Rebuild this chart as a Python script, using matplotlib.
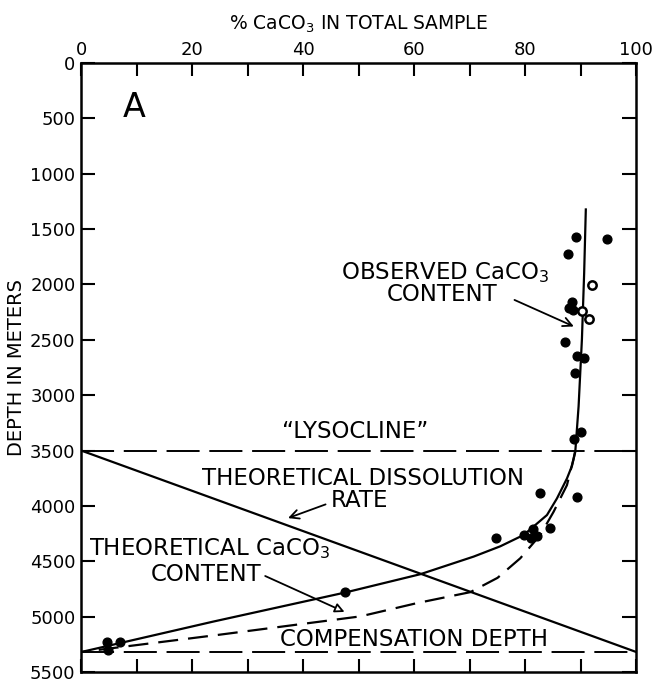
import numpy as np
import matplotlib
matplotlib.use("Agg")
import matplotlib.pyplot as plt

plt.rcParams['font.family'] = ['DejaVu Sans']
plt.rcParams['mathtext.fontset'] = 'dejavusans'

# observed CaCO3 samples (percent, depth in m)
obs_pct = [89.2, 94.8, 87.7, 88.4, 87.8, 88.6, 87.1, 89.3, 90.5, 89.0,
           90.0, 88.8, 82.7, 89.4, 74.8, 79.8, 81.4, 81.0, 82.1, 84.5,
           47.6, 4.6, 7.0, 4.9]
obs_depth = [1575, 1593, 1727, 2157, 2212, 2230, 2523, 2643, 2667, 2802,
             3333, 3400, 3880, 3918, 4290, 4263, 4209, 4293, 4272, 4197,
             4782, 5228, 5228, 5298]
# samples drawn as open circles
open_pct = [92.1, 90.2, 91.4]
open_depth = [2005, 2240, 2310]

# curve fitted through the observed values
fit_pct = [90.9, 90.6, 90.2, 89.6, 89.0, 88.4, 87.5, 85.7, 83.9, 79.7,
           75.5, 70.7, 61.1, 47.6, 23.8, 0.0]
fit_depth = [1323, 1900, 2493, 3100, 3513, 3640, 3753, 3933, 4083, 4263,
             4365, 4458, 4617, 4782, 5045, 5320]

# theoretical CaCO3 content (dashed)
theo_pct = [89.0, 88.7, 87.5, 85.1, 82.7, 79.1, 75.0, 70.1, 60.5, 50.3,
            25.0, 0.0]
theo_depth = [3500, 3573, 3813, 4053, 4263, 4473, 4650, 4779, 4878, 4998,
              5163, 5320]

# theoretical dissolution rate (straight line)
rate_pct = [0, 100]
rate_depth = [3500, 5320]

lysocline = 3500
compensation = 5320

x_ticks = [0, 20, 40, 60, 80, 100]
y_ticks = list(range(0, 5501, 500))

fig = plt.figure(figsize=(6.54, 6.82), dpi=100)
ax = fig.add_axes([0.124, 0.0147, 0.849, 0.893])

lw = 1.6
ax.plot(rate_pct, rate_depth, color='black', lw=lw)
ax.plot(fit_pct, fit_depth, color='black', lw=lw)
ax.plot(theo_pct, theo_depth, color='black', lw=lw, dashes=(9, 4.5))
ax.axhline(lysocline, color='black', lw=1.4, dashes=(17, 5))
ax.axhline(compensation, color='black', lw=1.4, dashes=(17, 5))

ax.plot(obs_pct, obs_depth, 'o', color='black', ms=6.3)
ax.plot(open_pct, open_depth, 'o', mfc='white', mec='black', mew=1.8, ms=6)

ax.set_xlim(0, 100)
ax.set_ylim(5500, 0)

ax.set_xticks(x_ticks)
ax.set_xticks(range(10, 100, 20), minor=True)
ax.set_yticks(y_ticks)
ax.tick_params(axis='x', which='both', top=True, bottom=True, labeltop=True,
               labelbottom=False, direction='in', length=9.5, width=1.5,
               labelsize=13, pad=3)
ax.tick_params(axis='y', which='both', left=True, right=True, direction='in',
               length=10, width=1.5, labelsize=13, pad=4)
for s in ax.spines.values():
    s.set_linewidth(1.8)

ax.xaxis.set_label_position('top')
ax.set_xlabel(r'% CaCO$_3$ IN TOTAL SAMPLE', fontsize=13.5, labelpad=8)
ax.set_ylabel('DEPTH IN METERS', fontsize=14, labelpad=3)

fs = 16.5
plain = dict(arrowstyle='->', color='black', lw=1.3, mutation_scale=16)
ax.text(9.5, 400, 'A', fontsize=24, ha='center', va='center')
ax.text(65.5, 1890, r'OBSERVED CaCO$_3$', fontsize=fs, ha='center', va='center')
ax.text(65.0, 2088, 'CONTENT', fontsize=fs, ha='center', va='center')
ax.annotate('', xy=(89.2, 2390), xytext=(77.6, 2130), arrowprops=plain)
ax.text(49.4, 3330, '\u201cLYSOCLINE\u201d', fontsize=fs, ha='center', va='center')
ax.text(50.8, 3753, 'THEORETICAL DISSOLUTION', fontsize=fs, ha='center', va='center')
ax.text(50.1, 3951, 'RATE', fontsize=fs, ha='center', va='center')
ax.annotate('', xy=(36.8, 4119), xytext=(44.5, 3978), arrowprops=plain)
ax.text(23.1, 4383, r'THEORETICAL CaCO$_3$', fontsize=fs, ha='center', va='center')
ax.text(22.5, 4617, 'CONTENT', fontsize=fs, ha='center', va='center')
ax.annotate('', xy=(47.9, 4968), xytext=(32.7, 4623),
            arrowprops=dict(arrowstyle='-|>', color='black', lw=1.3,
                            fc='white', mutation_scale=14))
ax.text(60.0, 5208, 'COMPENSATION DEPTH', fontsize=fs, ha='center', va='center')

fig.savefig('out.png', dpi=100)
